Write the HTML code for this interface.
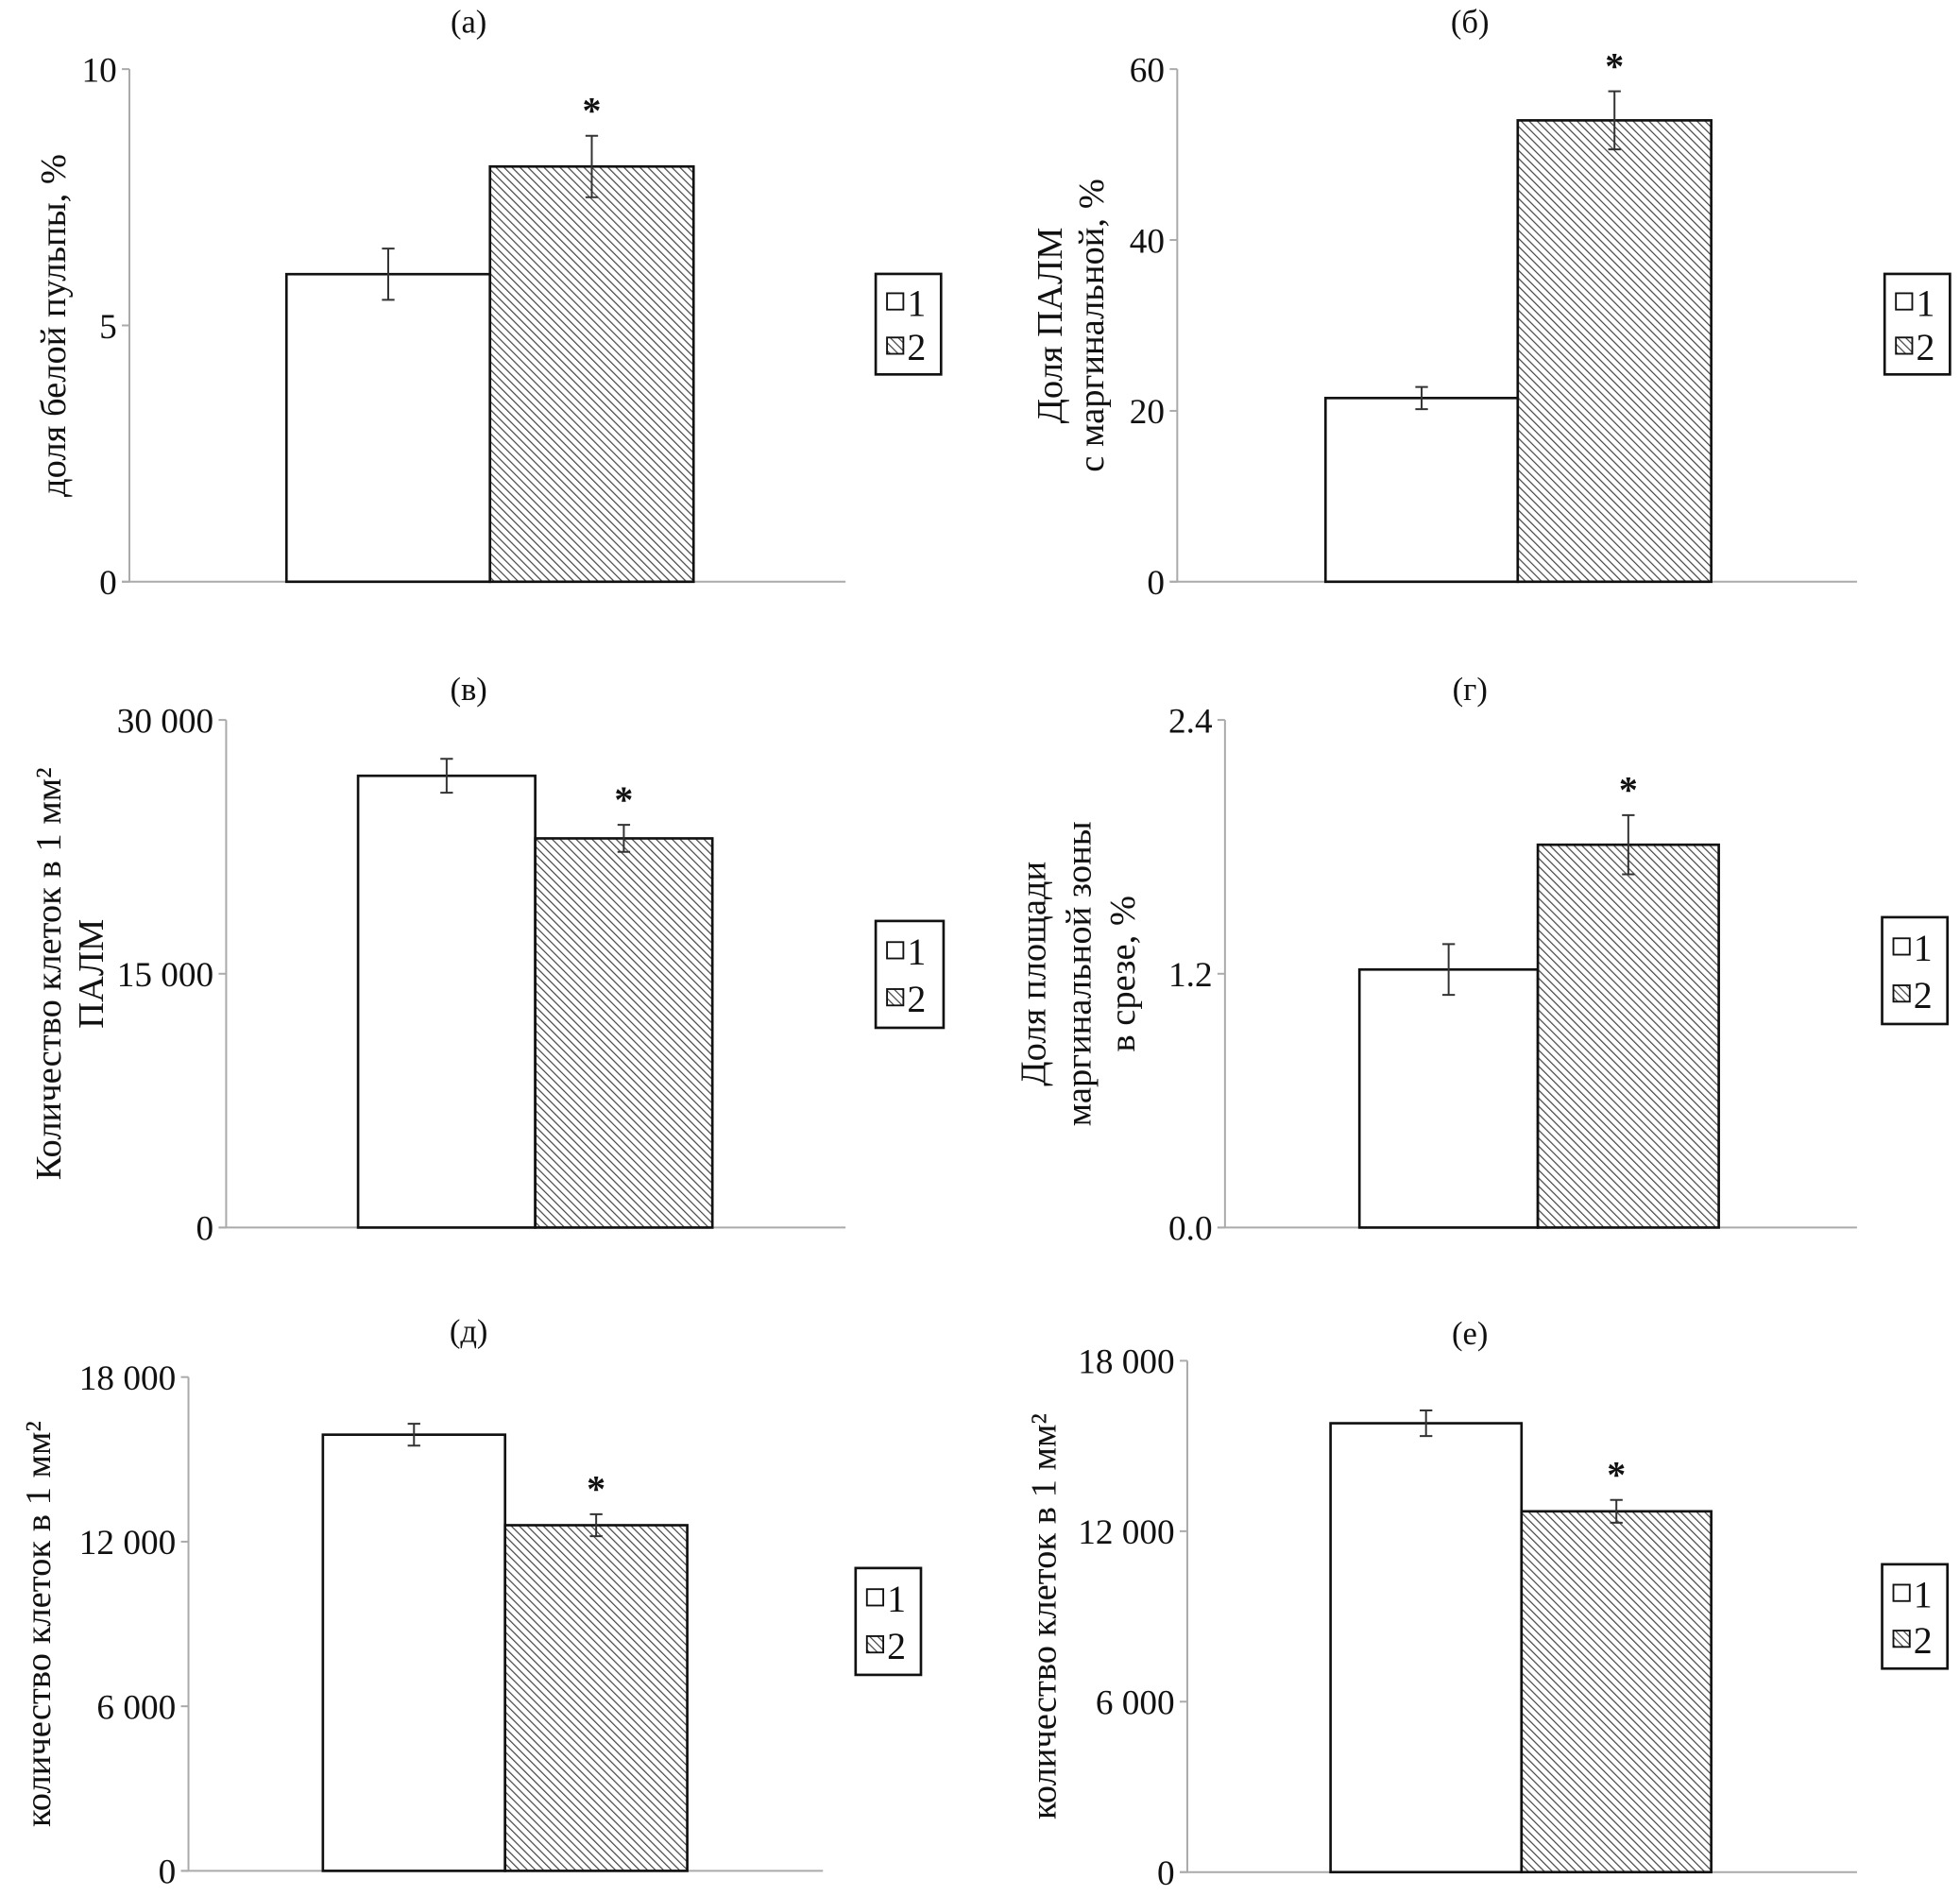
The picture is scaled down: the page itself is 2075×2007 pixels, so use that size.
<!DOCTYPE html>
<html><head><meta charset="utf-8"><style>
html,body{margin:0;padding:0;background:#fff}
svg{display:block}
text{font-family:"Liberation Serif",serif;fill:#111}
</style></head><body>
<svg id="fig" width="2075" height="2007" viewBox="0 0 1560 1509" preserveAspectRatio="none" xmlns="http://www.w3.org/2000/svg">
<defs>
<pattern id="hatch" patternUnits="userSpaceOnUse" width="4.5" height="4.5" patternTransform="rotate(-45)">
<rect width="4.5" height="4.5" fill="#fff"/>
<line x1="0" y1="0" x2="0" y2="4.5" stroke="#444" stroke-width="1.8"/>
</pattern>
</defs>
</svg>
<script>
const panelLabels = ['(а)','(б)','(в)','(г)','(д)','(е)'];
const yTitles = [['доля белой пульпы, %'],['Доля ПАЛМ','с маргинальной, %'],['Количество клеток в 1 мм²','ПАЛМ'],['Доля площади','маргинальной зоны','в срезе, %'],['количество клеток в 1 мм²'],['количество клеток в 1 мм²']];
const yMax = [10,60,30000,2.4,18000,18000];
const tickValues = [[0,5,10],[0,20,40,60],[0,15000,30000],[0,1.2,2.4],[0,6000,12000,18000],[0,6000,12000,18000]];
const tickLabels = [['0','5','10'],['0','20','40','60'],['0','15 000','30 000'],['0.0','1.2','2.4'],['0','6 000','12 000','18 000'],['0','6 000','12 000','18 000']];
const group1Values = [6.0,21.5,26700,1.22,15900,15800];
const group2Values = [8.1,54,23000,1.81,12600,12700];
const group1Errors = [0.5,1.3,1000,0.12,400,450];
const group2Errors = [0.6,3.4,800,0.14,400,400];
const legendLabels = ['1','2'];

// layout (not data)
const L = [
 {ax:103,top:55,bot:463,right:673,b1:228,b2:390,b3:552,tx:373,ty:26,lg:[697,218,52,80],yt:[42]},
 {ax:937,top:55,bot:463,right:1478,b1:1055,b2:1208,b3:1362,tx:1170,ty:26,lg:[1500,218,52,80],yt:[835,868]},
 {ax:180,top:573,bot:977,right:673,b1:285,b2:426,b3:567,tx:373,ty:557,lg:[697,733,54,85],yt:[38,72]},
 {ax:975,top:573,bot:977,right:1478,b1:1082,b2:1224,b3:1368,tx:1170,ty:557,lg:[1498,730,52,85],yt:[822,858,893]},
 {ax:150,top:1096,bot:1489,right:655,b1:257,b2:402,b3:547,tx:373,ty:1068,lg:[681,1248,52,85],yt:[30]},
 {ax:945,top:1083,bot:1490,right:1478,b1:1059,b2:1211,b3:1362,tx:1170,ty:1070,lg:[1498,1245,52,83],yt:[830]}
];
const svg=document.getElementById('fig');
const NS='http://www.w3.org/2000/svg';
function mk(tag,attrs,parent){const e=document.createElementNS(NS,tag);for(const k in attrs)e.setAttribute(k,attrs[k]);(parent||svg).appendChild(e);return e;}
L.forEach((p,i)=>{
 const g=mk('g',{});
 
 
 const y=v=>p.bot-(v/yMax[i])*(p.bot-p.top);
 const t=mk('text',{x:p.tx,y:p.ty,'text-anchor':'middle','font-size':26},g);t.textContent=panelLabels[i];
 
 
 const ya=mk('line',{x1:p.ax,y1:p.top,x2:p.ax,y2:p.bot,stroke:'#aaa','stroke-width':1.5},g);
 
 
 const xa=mk('line',{x1:p.ax-6,y1:p.bot,x2:p.right,y2:p.bot,stroke:'#aaa','stroke-width':1.5},g);
 
 
 tickValues[i].forEach((v,j)=>{
  mk('line',{x1:p.ax-6,y1:y(v),x2:p.ax,y2:y(v),stroke:'#aaa','stroke-width':1.5},g);
  const tl=mk('text',{x:p.ax-10,y:y(v)+10,'text-anchor':'end','font-size':28},g);tl.textContent=tickLabels[i][j];
  
  
 });
 const cy=(p.top+p.bot)/2;
 yTitles[i].forEach((s,k)=>{
  const tx=p.yt[k];
  const tt=mk('text',{x:0,y:0,'text-anchor':'middle','font-size':29,transform:`translate(${tx+10},${cy}) rotate(-90)`},g);tt.textContent=s;
  
  
 });
 const bars=[[p.b1,p.b2,group1Values[i],group1Errors[i],'#fff'],[p.b2,p.b3,group2Values[i],group2Errors[i],'url(#hatch)']];
 bars.forEach((b,k)=>{
  const r=mk('rect',{x:b[0],y:y(b[2]),width:b[1]-b[0],height:p.bot-y(b[2]),fill:b[4],stroke:'#111','stroke-width':2},g);
  
  
  const cx=(b[0]+b[1])/2, hi=y(b[2]+b[3]), lo=y(b[2]-b[3]);
  const eb=mk('path',{d:`M${cx},${hi}V${lo}M${cx-5},${hi}H${cx+5}M${cx-5},${lo}H${cx+5}`,stroke:'#333','stroke-width':1.5,fill:'none'},g);
  
  
  if(k===1){const st=mk('text',{x:cx,y:hi-10,'text-anchor':'middle','font-size':30,'font-weight':'bold','font-family':'Liberation Sans'},g);st.textContent='*';
   
   }
 });
 const [lx,ly,lw,lh]=p.lg;
 const lg=mk('g',{},g);
 
 
 mk('rect',{x:lx,y:ly,width:lw,height:lh,fill:'#fff',stroke:'#111','stroke-width':2},lg);
 legendLabels.forEach((s,k)=>{
  const ey=ly+lh*(k===0?0.28:0.72);
  const sw=mk('rect',{x:lx+9,y:ey-7,width:13,height:13,fill:k?'url(#hatch)':'#fff',stroke:'#111','stroke-width':1.4},lg);
  
  
  const lt=mk('text',{x:lx+25,y:ey+11,'font-size':30},lg);lt.textContent=s;
  
  
 });
});
</script>
</body></html>
